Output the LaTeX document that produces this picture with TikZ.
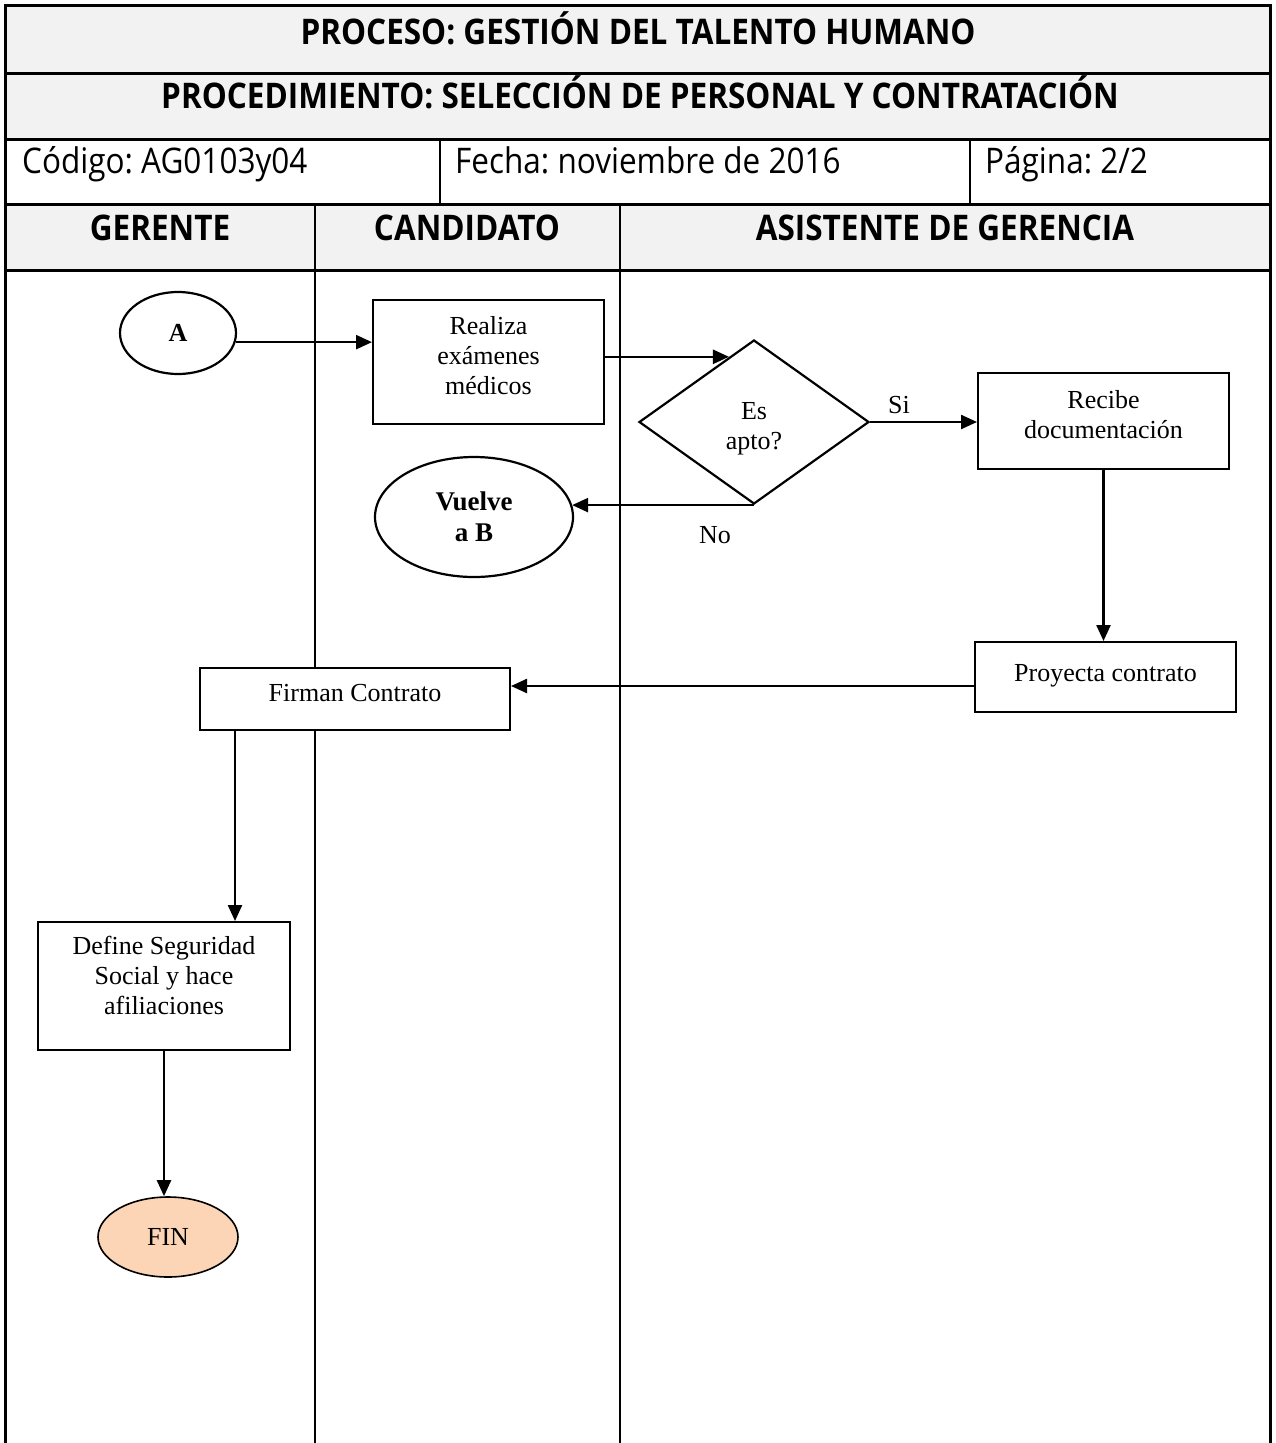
\documentclass[tikz,border=0pt]{standalone}
\usepackage{fontspec}
\setmainfont{Liberation Serif}
\newfontfamily\hdrfont{Open Sans}
\usetikzlibrary{shapes.geometric,arrows.meta,calc}
\definecolor{hdrgray}{HTML}{F2F2F2}
\definecolor{finfill}{HTML}{FBD5B5}
\newcommand{\tallhdr}[1]{\scalebox{1}[1.12]{#1}}
% set a (multi-line) text block higher or lower inside its shape
\newcommand{\liftby}[2]{\raisebox{#1}[\height][\depth]{\begin{tabular}{@{}c@{}}#2\end{tabular}}}
\frenchspacing
\begin{document}
\begin{tikzpicture}[x=1pt,y=-1pt,
  box/.style={draw,line width=2pt,fill=white,align=center,inner sep=0pt,
              font=\fontsize{26}{30}\selectfont},
  term/.style={ellipse,draw,line width=2.2pt,fill=white,align=center,inner sep=0pt,
              font=\fontsize{26}{30}\selectfont},
  decision/.style={diamond,draw,line width=2.2pt,fill=white,align=center,inner sep=0pt,
              font=\fontsize{26}{30}\selectfont},
  lbl/.style={font=\fontsize{26}{30}\selectfont,inner sep=0pt},
  arr/.style={line width=2.4pt,-{Triangle[length=16pt,width=14pt]}},
  hbold/.style={font=\hdrfont\bfseries\fontsize{31.5}{36}\selectfont,inner sep=0pt},
  hnorm/.style={font=\hdrfont\fontsize{31.5}{36}\selectfont,inner sep=0pt},
  frame/.style={line width=3pt},
  rule/.style={line width=2pt}]
\useasboundingbox (0,0) rectangle (1275,1443);

% shaded header rows
\fill[hdrgray] (5,5) rectangle (1270,139);
\fill[hdrgray] (5,204) rectangle (1270,270);

% table rules
\draw[frame] (5,1443) -- (5,5) -- (1270,5) -- (1270,1443);
\draw[frame] (5,73) -- (1270,73);
\draw[frame] (5,139) -- (1270,139);
\draw[frame] (5,204) -- (1270,204);
\draw[frame] (5,270) -- (1270,270);
\draw[rule] (440,139) -- (440,204);
\draw[rule] (970,139) -- (970,204);
\draw[rule] (315,204) -- (315,1443);
\draw[rule] (620,204) -- (620,1443);

% header texts
\node[hbold,anchor=base] (t1) at (638,44) {\tallhdr{PROCESO: GESTIÓN DEL TALENTO HUMANO}};
\node[hbold,anchor=base] (t2) at (640,108) {\tallhdr{PROCEDIMIENTO: SELECCIÓN DE PERSONAL Y CONTRATACIÓN}};
\node[hnorm,anchor=base west] (cod) at (22,173) {\tallhdr{Código: AG0103y04}};
\node[hnorm,anchor=base west] (fec) at (455,173) {\tallhdr{Fecha: noviembre de 2016}};
\node[hnorm,anchor=base west] (pag) at (985,173) {\tallhdr{Página: 2/2}};
\node[hbold,anchor=base] (l1) at (160,240) {\tallhdr{GERENTE}};
\node[hbold,anchor=base] (l2) at (467,240) {\tallhdr{CANDIDATO}};
\node[hbold,anchor=base] (l3) at (945,240) {\tallhdr{ASISTENTE DE GERENCIA}};

% flow nodes
\node[term,minimum width=116,minimum height=82,font=\fontsize{26}{30}\selectfont\bfseries] (A) at (178,333) {\liftby{-2pt}{A}};
\node[box,minimum width=231,minimum height=124] (R) at (488.5,362) {\liftby{4pt}{Realiza\\exámenes\\médicos}};
\node[decision,minimum width=230,minimum height=164] (D) at (754,422) {\liftby{-6pt}{Es\\apto?}};
\node[box,minimum width=251,minimum height=96] (Rec) at (1103.5,421) {\liftby{4pt}{Recibe\\documentación}};
\node[term,minimum width=198,minimum height=120,font=\fontsize{27}{31}\selectfont\bfseries] (V) at (474,517) {\liftby{-3pt}{Vuelve\\a B}};
\node[box,minimum width=261,minimum height=70] (P) at (1105.5,677) {\liftby{2pt}{Proyecta contrato}};
\node[box,minimum width=310,minimum height=62] (F) at (355,699) {\liftby{4pt}{Firman Contrato}};
\node[box,minimum width=252,minimum height=128] (Def) at (164,986) {\liftby{8pt}{Define Seguridad\\Social y hace\\afiliaciones}};
\node[term,line width=1.6pt,fill=finfill,minimum width=140,minimum height=80] (FIN) at (168,1237) {FIN};

% branch labels
\node[lbl] (si) at (899,405) {Si};
\node[lbl] (no) at (715,535) {No};

% connector end points off the node centres
\coordinate (pout) at ($(P.west)+(0,9)$);
\coordinate (fout) at ($(F.south west)+(36,0)$);

% connectors
\draw[arr] (A.-9) -- (A.-9 -| R.west);
\draw[arr] (R.east |- D.111) -- (D.111);
\draw[arr] (D.east) -- (D.east -| Rec.west);
\draw[arr] (D.south) -- (D.south -| V.7);
\draw[arr] (Rec.south) -- (Rec.south |- P.north);
\draw[arr] (pout) -- (pout -| F.east);
\draw[arr] (fout) -- (fout |- Def.north);
\draw[arr] (Def.south) -- (Def.south |- FIN.north);
\end{tikzpicture}
\end{document}
